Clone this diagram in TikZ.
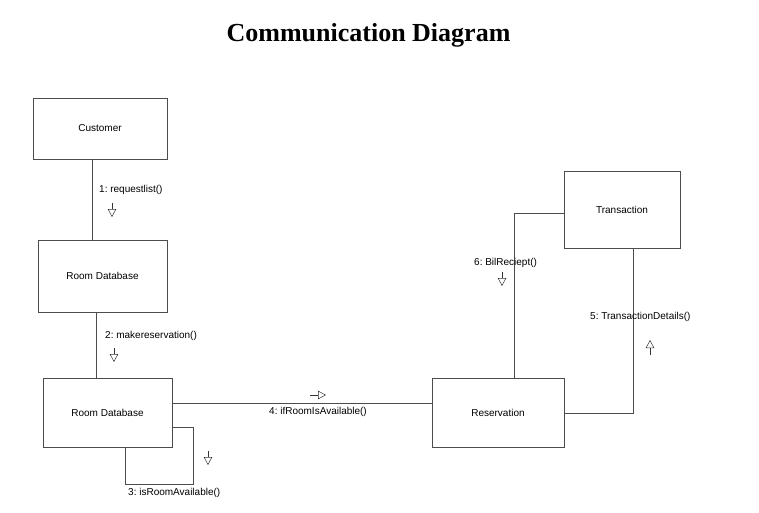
\documentclass[tikz,border=0pt]{standalone}
\usepackage{fontspec}
\setmainfont{Liberation Sans}
\newfontfamily\titlefont{Liberation Serif}
\usetikzlibrary{arrows.meta, positioning}
\frenchspacing

\begin{document}
\begin{tikzpicture}[x=1pt, y=-1pt,
        box/.style={draw=black!70, line width=0.6pt, inner sep=0pt, font=\fontsize{10}{12}\selectfont},
        lbl/.style={anchor=west, inner sep=0pt, font=\fontsize{10}{12}\selectfont},
        link/.style={draw=black!70, line width=0.6pt},
        msg/.style={draw=black!80, line width=0.5pt, -{Triangle[open, length=8pt, width=8.5pt]}}]
    \useasboundingbox (0,0) rectangle (759,513);

    \node[anchor=base] (title) at (368.5, 42) {\titlefont\bfseries\fontsize{26}{30}\selectfont Communication Diagram};

    \node[box, minimum width=134pt, minimum height=61pt] (customer) at (100, 128.5) {Customer};
    \node[box, minimum width=129pt, minimum height=72pt] (roomdb) at (102.5, 276) {Room Database};
    \node[box, minimum width=129pt, minimum height=69pt] (roomdbb) at (107.5, 412.5) {Room Database};
    \node[box, minimum width=132pt, minimum height=69pt] (reservation) at (498, 412.5) {Reservation};
    \node[box, minimum width=116pt, minimum height=77pt] (transaction) at (622, 209.5) {Transaction};

    \draw[link] ([xshift=-8pt]customer.south) -- ([xshift=-8pt]customer.south |- roomdb.north);
    \draw[link] ([xshift=-6.5pt]roomdb.south) -- ([xshift=-6.5pt]roomdb.south |- roomdbb.north);
    \draw[link] ([yshift=-14.5pt]roomdbb.east) -- ++(21,0) -- ++(0,57) -| ([xshift=17.5pt]roomdbb.south);
    \draw[link] ([yshift=9.5pt]roomdbb.east) -- ([yshift=9.5pt]roomdbb.east -| reservation.west);
    \draw[link] ([yshift=-0.5pt]reservation.east) -| ([xshift=11pt]transaction.south);
    \draw[link] ([yshift=-3.5pt]transaction.west) -| ([xshift=16pt]reservation.north);

    \node[lbl] (req) at (99, 190) {1: requestlist()};
    \node[lbl] (make) at (105, 336) {2: makereservation()};
    \node[lbl] (isavail) at (128, 493) {3: isRoomAvailable()};
    \node[lbl] (ifavail) at (269, 412) {4: ifRoomIsAvailable()};
    \node[lbl] (details) at (590, 317) {5: TransactionDetails()};
    \node[lbl] (receipt) at (474, 263) {6: BilReciept()};

    \coordinate (m1a) at (112, 203);
    \coordinate (m1b) at (112, 217);
    \coordinate (m2a) at (114, 348);
    \coordinate (m2b) at (114, 362);
    \coordinate (m3a) at (208, 451);
    \coordinate (m3b) at (208, 465);
    \coordinate (m4a) at (310, 395);
    \coordinate (m4b) at (326, 395);
    \coordinate (m5a) at (650, 355);
    \coordinate (m5b) at (650, 340);
    \coordinate (m6a) at (502, 272);
    \coordinate (m6b) at (502, 286);

    \draw[msg] (m1a) -- (m1b);
    \draw[msg] (m2a) -- (m2b);
    \draw[msg] (m3a) -- (m3b);
    \draw[msg] (m4a) -- (m4b);
    \draw[msg] (m5a) -- (m5b);
    \draw[msg] (m6a) -- (m6b);
\end{tikzpicture}
\end{document}
